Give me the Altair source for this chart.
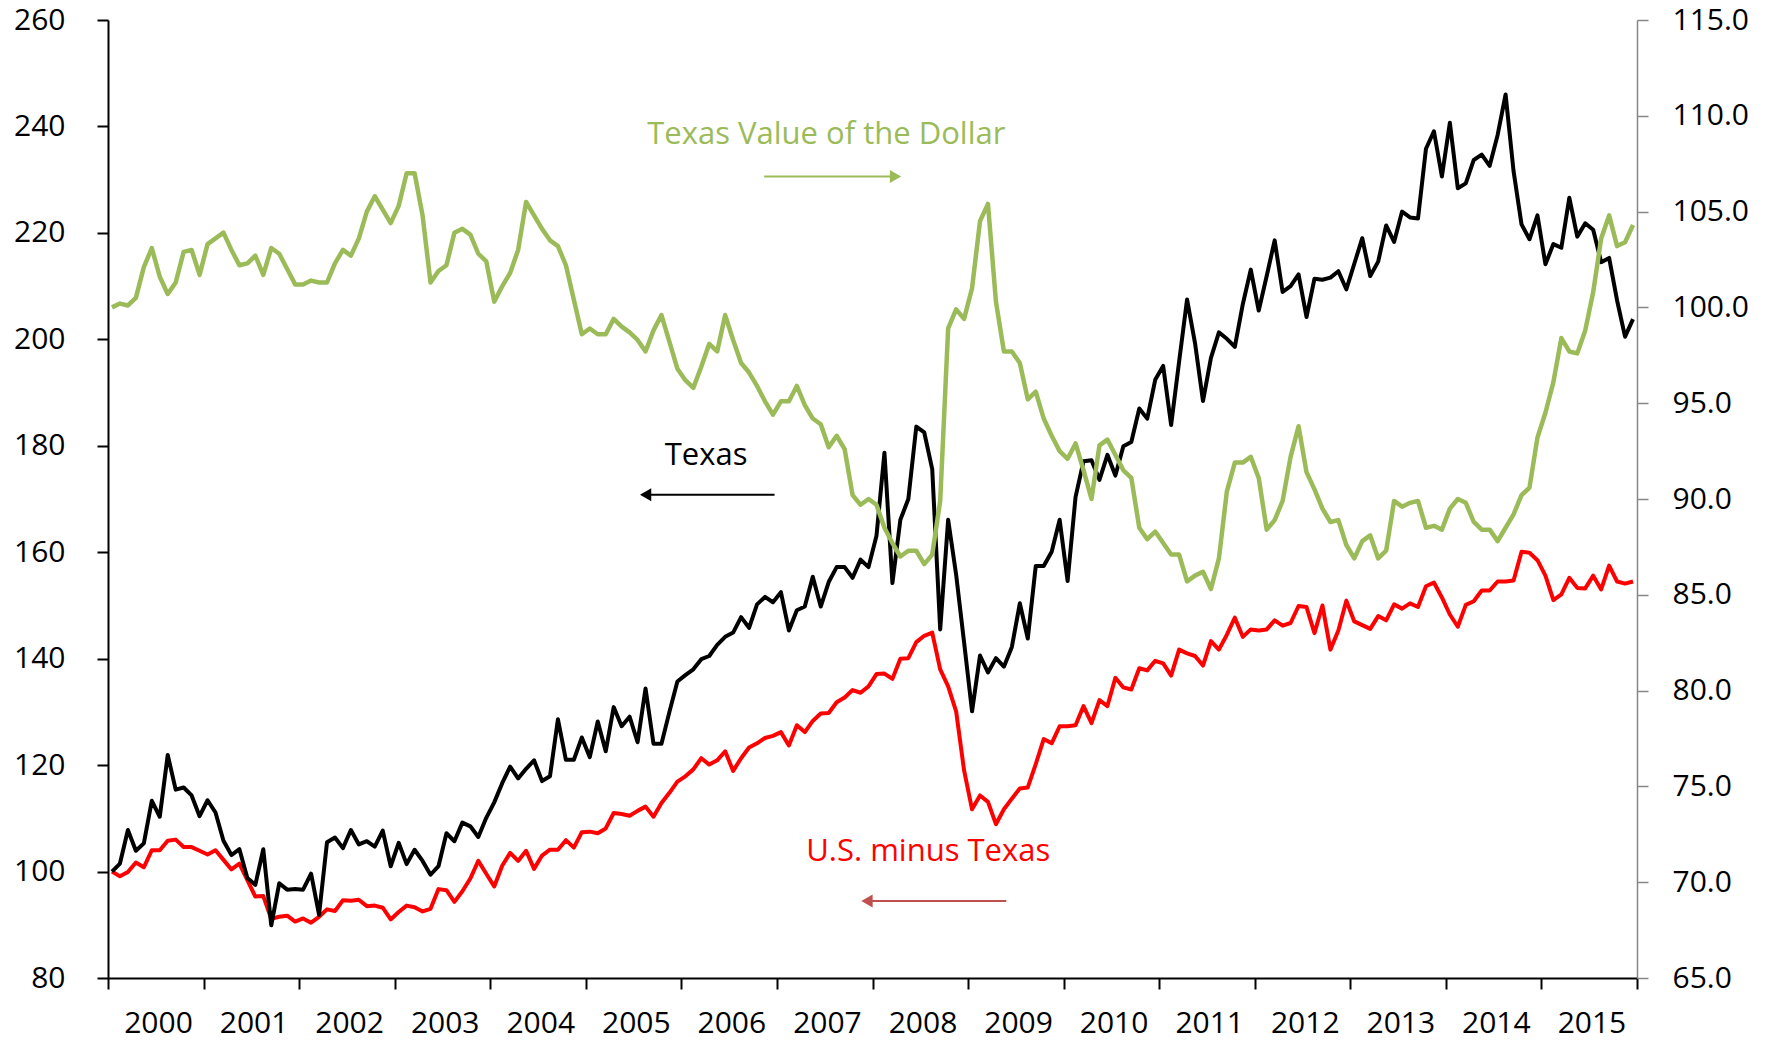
import altair as alt
import pandas as pd

# ---- data (monthly, Jan 2000 - Dec 2015) ----
texas = [
    100.0, 101.5, 107.8, 103.9, 105.3, 113.3, 110.3, 121.9, 115.4, 115.8, 114.3, 110.4,
    113.4, 111.1, 105.8, 103.1, 104.2, 98.8, 97.5, 104.2, 89.9, 97.8, 96.6, 96.7,
    96.6, 99.6, 91.9, 105.5, 106.4, 104.4, 107.8, 105.1, 105.7, 104.7, 107.7, 101.0,
    105.4, 101.4, 104.1, 102.0, 99.4, 101.0, 107.2, 105.7, 109.2, 108.5, 106.5, 110.1,
    113.0, 116.6, 119.7, 117.5, 119.3, 120.9, 117.0, 117.9, 128.6, 121.0, 121.0, 125.2,
    121.5, 128.2, 122.6, 130.9, 127.3, 129.1, 124.3, 134.4, 124.0, 124.0, 130.0, 135.7,
    136.9, 138.0, 139.9, 140.5, 142.6, 144.1, 144.9, 147.8, 145.8, 150.2, 151.6, 150.6,
    152.5, 145.3, 149.1, 149.8, 155.4, 149.8, 154.4, 157.2, 157.2, 155.2, 158.6, 157.2,
    163.1, 178.7, 154.2, 166.1, 170.0, 183.6, 182.5, 175.6, 145.5, 166.1, 155.8, 143.1,
    130.1, 140.6, 137.4, 140.1, 138.5, 142.2, 150.4, 143.8, 157.4, 157.4, 160.1, 166.1,
    154.6, 170.4, 177.1, 177.3, 173.6, 178.3, 174.4, 179.9, 180.7, 187.0, 185.1, 192.4,
    195.0, 183.9, 195.8, 207.5, 199.3, 188.4, 196.5, 201.3, 200.1, 198.6, 206.6, 213.1,
    205.4, 211.9, 218.6, 208.9, 210.0, 212.2, 204.2, 211.4, 211.2, 211.6, 212.8, 209.4,
    214.2, 219.0, 211.9, 214.6, 221.4, 218.3, 224.0, 222.9, 222.7, 235.8, 239.1, 230.6,
    240.7, 228.4, 229.3, 233.7, 234.7, 232.6, 238.4, 246.0, 231.6, 221.6, 218.8, 223.3,
    214.1, 217.9, 217.2, 226.6, 219.3, 221.8, 220.6, 214.5, 215.3, 207.3, 200.5, 203.8,
]

us_minus_texas = [
    100.0, 99.1, 99.9, 101.7, 100.8, 104.0, 104.0, 105.8, 106.0, 104.6, 104.6, 103.9,
    103.2, 104.0, 102.2, 100.4, 101.5, 98.4, 95.3, 95.4, 91.1, 91.5, 91.7, 90.6,
    91.2, 90.4, 91.5, 92.9, 92.6, 94.6, 94.5, 94.7, 93.5, 93.6, 93.2, 91.0,
    92.4, 93.6, 93.3, 92.5, 93.0, 96.7, 96.5, 94.3, 96.3, 98.7, 102.0, 99.6,
    97.2, 101.1, 103.5, 102.0, 103.9, 100.5, 103.0, 104.1, 104.1, 105.9, 104.5, 107.4,
    107.5, 107.2, 108.1, 111.0, 110.8, 110.5, 111.4, 112.2, 110.3, 112.9, 114.8, 116.9,
    117.9, 119.2, 121.3, 120.1, 120.9, 122.6, 118.9, 121.3, 123.3, 124.1, 125.1, 125.5,
    126.2, 123.7, 127.5, 126.2, 128.3, 129.7, 129.8, 131.8, 132.7, 134.1, 133.6, 134.8,
    137.1, 137.2, 136.2, 140.0, 140.1, 143.1, 144.3, 144.9, 138.0, 134.8, 130.1, 119.0,
    111.7, 114.3, 113.1, 108.9, 111.7, 113.7, 115.6, 115.8, 120.2, 124.9, 124.1, 127.3,
    127.3, 127.5, 131.1, 127.9, 132.2, 131.1, 136.4, 134.6, 134.2, 138.2, 137.8, 139.6,
    139.1, 136.8, 141.7, 141.0, 140.5, 138.7, 143.3, 141.7, 144.5, 147.7, 144.1, 145.5,
    145.3, 145.5, 147.2, 146.2, 146.7, 149.9, 149.7, 144.8, 150.0, 141.7, 145.3, 150.9,
    147.0, 146.3, 145.6, 148.0, 147.2, 150.2, 149.4, 150.4, 149.7, 153.6, 154.3, 151.5,
    148.3, 146.0, 150.1, 150.8, 152.8, 152.8, 154.5, 154.5, 154.7, 160.1, 159.9, 158.5,
    155.6, 151.0, 152.1, 155.2, 153.3, 153.2, 155.6, 153.0, 157.5, 154.5, 154.1, 154.5,
]

dollar = [
    100.0, 100.2, 100.1, 100.5, 102.1, 103.1, 101.6, 100.7, 101.3, 102.9, 103.0, 101.7,
    103.3, 103.6, 103.9, 103.0, 102.2, 102.3, 102.7, 101.7, 103.1, 102.8, 102.0, 101.2,
    101.2, 101.4, 101.3, 101.3, 102.3, 103.0, 102.7, 103.6, 105.0, 105.8, 105.1, 104.4,
    105.3, 107.0, 107.0, 104.8, 101.3, 101.9, 102.2, 103.9, 104.1, 103.8, 102.8, 102.4,
    100.3, 101.1, 101.8, 103.0, 105.5, 104.8, 104.1, 103.5, 103.2, 102.2, 100.4, 98.6,
    98.9, 98.6, 98.6, 99.4, 99.0, 98.7, 98.3, 97.7, 98.8, 99.6, 98.2, 96.8,
    96.2, 95.8, 96.9, 98.1, 97.7, 99.6, 98.3, 97.1, 96.6, 95.9, 95.1, 94.4,
    95.1, 95.1, 95.9, 94.9, 94.2, 93.9, 92.7, 93.3, 92.6, 90.2, 89.7, 90.0,
    89.7, 88.5, 87.7, 87.0, 87.3, 87.3, 86.6, 87.1, 89.9, 98.9, 99.9, 99.4,
    101.0, 104.5, 105.4, 100.3, 97.7, 97.7, 97.1, 95.2, 95.6, 94.2, 93.3, 92.5,
    92.1, 92.9, 91.5, 90.0, 92.8, 93.1, 92.3, 91.5, 91.1, 88.5, 87.9, 88.3,
    87.7, 87.1, 87.1, 85.7, 86.0, 86.2, 85.3, 86.9, 90.4, 91.9, 91.9, 92.2,
    91.1, 88.4, 88.9, 89.9, 92.2, 93.8, 91.4, 90.5, 89.5, 88.8, 88.9, 87.6,
    86.9, 87.8, 88.1, 86.9, 87.3, 89.9, 89.6, 89.8, 89.9, 88.5, 88.6, 88.4,
    89.5, 90.0, 89.8, 88.8, 88.4, 88.4, 87.8, 88.5, 89.2, 90.2, 90.6, 93.2,
    94.5, 96.1, 98.4, 97.7, 97.6, 98.8, 100.8, 103.6, 104.8, 103.2, 103.4, 104.3,
]

first_year = 2000
n_years = 16

# annotation texts (positions in data units: month index / left axis)
ann_text = ["Texas Value of the Dollar", "Texas", "U.S. minus Texas"]
ann_x = [90.2, 75.1, 103.0]
ann_y = [236.75, 176.45, 102.07]
ann_color = ["#9BBB59", "#000000", "#FF0000"]

# arrows: tail x, tip x, y (left axis units)
arr_tail = [82.4, 83.7, 112.8]
arr_tip = [100.3, 66.1, 93.9]
arr_y = [230.6, 170.8, 94.45]
arr_color = ["#9BBB59", "#000000", "#C0504D"]
arr_shape = ["triangle-right", "triangle-left", "triangle-left"]

FONT = "Open Sans"
n = len(texas)
months = n_years * 12

df = pd.DataFrame({
    "t": [i + 0.5 for i in range(n)],
    "texas": texas,
    "us": us_minus_texas,
    "dollar": dollar,
})

head_off = 1.41
arrows = pd.DataFrame({
    "tail": arr_tail,
    "tip": arr_tip,
    "head": [tp - head_off if tp > tl else tp + head_off for tl, tp in zip(arr_tail, arr_tip)],
    "y": arr_y,
    "color": arr_color,
    "shape": arr_shape,
})
texts = pd.DataFrame({"label": ann_text, "x": ann_x, "y": ann_y, "color": ann_color})

xscale = alt.Scale(domain=[0, months], nice=False, zero=False)
lscale = alt.Scale(domain=[80, 260], nice=False, zero=False)
rscale = alt.Scale(domain=[65, 115], nice=False, zero=False)

x_axis = alt.Axis(
    values=list(range(0, months + 1, 12)),
    labelExpr=f"datum.value >= {months} ? '' : '' + ({first_year} + datum.value / 12)",
    labelOffset=50,
    labelFont=FONT, labelFontSize=30, labelColor="#000000",
    labelPadding=19, labelAngle=0,
    tickSize=11, tickWidth=2, tickColor="#000000",
    domainColor="#000000", domainWidth=2,
    labelFlush=False, labelOverlap=False,
    title=None, grid=False,
)
y_left_axis = alt.Axis(
    values=list(range(80, 261, 20)),
    labelFont=FONT, labelFontSize=30, labelColor="#000000",
    labelPadding=32, tickSize=11, tickWidth=2, tickColor="#000000",
    domainColor="#000000", domainWidth=2, title=None, grid=False,
    labelFlush=False, labelOverlap=False,
)
y_right_axis = alt.Axis(
    orient="right",
    values=list(range(65, 116, 5)),
    format=".1f",
    labelFont=FONT, labelFontSize=30, labelColor="#000000",
    labelPadding=24, tickSize=11, tickWidth=1.5, tickColor="#868686",
    domainColor="#868686", domainWidth=1.5, title=None, grid=False,
    labelFlush=False, labelOverlap=False,
)

base = alt.Chart(df)

black = base.mark_line(color="#000000", strokeWidth=4, strokeJoin="round").encode(
    x=alt.X("t:Q", scale=xscale, axis=x_axis),
    y=alt.Y("texas:Q", scale=lscale, axis=y_left_axis),
)
red = base.mark_line(color="#FF0000", strokeWidth=4, strokeJoin="round").encode(
    x=alt.X("t:Q", scale=xscale),
    y=alt.Y("us:Q", scale=lscale),
)

ann = alt.Chart(texts).mark_text(font=FONT, fontSize=31, align="center", baseline="alphabetic").encode(
    x=alt.X("x:Q", scale=xscale),
    y=alt.Y("y:Q", scale=lscale),
    text="label:N",
    color=alt.Color("color:N", scale=None),
)
arrow_lines = alt.Chart(arrows).mark_rule(strokeWidth=2).encode(
    x=alt.X("tail:Q", scale=xscale),
    x2="head:Q",
    y=alt.Y("y:Q", scale=lscale),
    color=alt.Color("color:N", scale=None),
)
arrow_heads = alt.Chart(arrows).mark_point(filled=True, size=170, opacity=1).encode(
    x=alt.X("head:Q", scale=xscale),
    y=alt.Y("y:Q", scale=lscale),
    shape=alt.Shape("shape:N", scale=None),
    color=alt.Color("color:N", scale=None),
)

left = alt.layer(red, black, ann, arrow_lines, arrow_heads)

green = base.mark_line(color="#9BBB59", strokeWidth=4.5, strokeJoin="round").encode(
    x=alt.X("t:Q", scale=xscale),
    y=alt.Y("dollar:Q", scale=rscale, axis=y_right_axis),
)

chart = (
    alt.layer(left, green)
    .resolve_scale(y="independent")
    .properties(
        width=1529,
        height=958,
        autosize=alt.AutoSizeParams(type="none"),
        padding={"left": 100, "top": 12, "right": 125, "bottom": 70},
    )
    .configure_view(strokeWidth=0)
    .configure_axis(grid=False)
)

chart.save("out.html", embed_options={"renderer": "svg", "actions": False})
